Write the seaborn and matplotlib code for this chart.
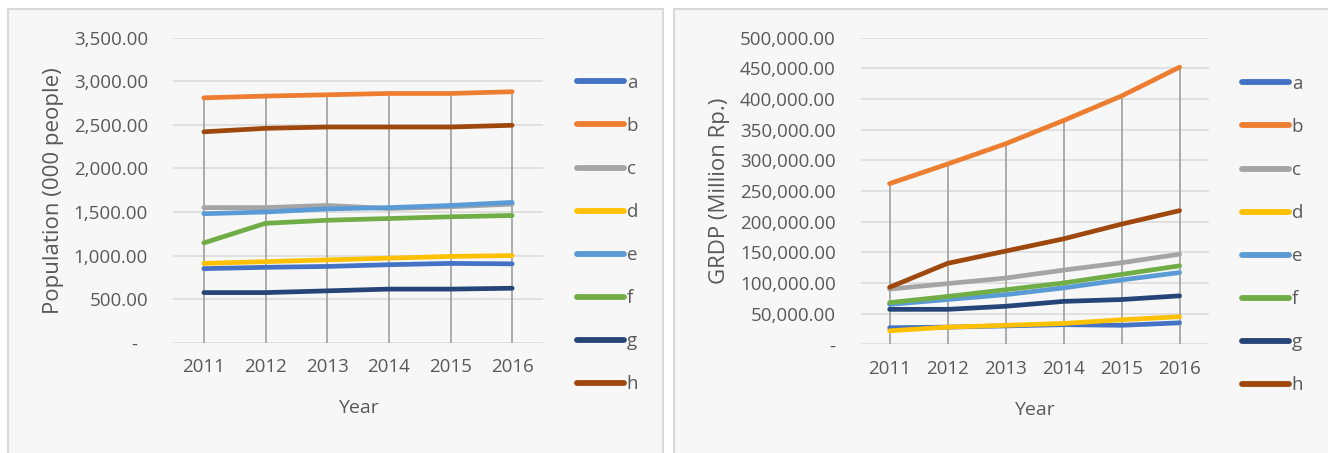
import numpy as np
import pandas as pd
import matplotlib
matplotlib.use("Agg")
import matplotlib.pyplot as plt
import seaborn as sns
from matplotlib.lines import Line2D
from matplotlib.patches import Rectangle
from matplotlib.ticker import FuncFormatter

years = [2011, 2012, 2013, 2014, 2015, 2016]
series = ["a", "b", "c", "d", "e", "f", "g", "h"]
colors = ["#4472C4", "#ED7D31", "#A5A5A5", "#FFC000",
          "#5B9BD5", "#70AD47", "#264478", "#9E480E"]

# Population (000 people)
pop_a = [850, 865, 875, 895, 910, 905]
pop_b = [2810, 2830, 2845, 2860, 2860, 2880]
pop_c = [1550, 1550, 1575, 1540, 1560, 1590]
pop_d = [910, 930, 950, 970, 990, 1000]
pop_e = [1480, 1500, 1535, 1550, 1575, 1610]
pop_f = [1145, 1370, 1405, 1425, 1445, 1460]
pop_g = [575, 575, 595, 615, 615, 625]
pop_h = [2420, 2460, 2475, 2475, 2475, 2495]

# GRDP (Million Rp.)
grdp_a = [27000, 28000, 30000, 32000, 31000, 35000]
grdp_b = [262000, 294000, 327000, 365000, 405000, 452000]
grdp_c = [90000, 99000, 108000, 121000, 133000, 147000]
grdp_d = [22000, 28000, 31000, 34000, 40000, 45000]
grdp_e = [65000, 73000, 81000, 92000, 105000, 117000]
grdp_f = [68000, 78000, 89000, 100000, 114000, 128000]
grdp_g = [57000, 57000, 62000, 70000, 73000, 79000]
grdp_h = [93000, 132000, 152000, 172000, 196000, 218000]

TEXT = "#595959"


def long_df(values):
    rows = []
    for name, vals in zip(series, values):
        for yr, v in zip(years, vals):
            rows.append((yr, name, v))
    return pd.DataFrame(rows, columns=["Year", "Series", "Value"])


def draw_panel(ax, df, ymax, step, ylabel, zero_label, ylabel_x):
    # drop lines from the highest series down to the axis
    peak = df.groupby("Year")["Value"].max()
    ax.vlines(peak.index, 0, peak.values, color="#a6a6a6", lw=1.3, zorder=1)
    sns.lineplot(data=df, x="Year", y="Value", hue="Series", hue_order=series,
                 palette=colors, lw=3.4, legend=False, ax=ax, zorder=3,
                 solid_capstyle="round")
    ax.set_facecolor("none")
    ax.set_xlim(years[0] - 0.5, years[-1] + 0.5)
    ax.set_ylim(0, ymax)
    ax.set_xticks(years)
    ax.set_yticks(np.arange(0, ymax + 1, step))
    ax.yaxis.set_major_formatter(FuncFormatter(
        lambda v, p: zero_label if v == 0 else f"{v:,.2f}"))
    ax.grid(axis="y", color="#d9d9d9", lw=1.1)
    ax.grid(axis="x", visible=False)
    for sp in ax.spines.values():
        sp.set_visible(False)
    ax.tick_params(length=0, labelsize=13.5, labelcolor=TEXT)
    ax.tick_params(axis="y", pad=18)
    ax.tick_params(axis="x", pad=11)
    ax.set_xlabel("Year", fontsize=14, color=TEXT)
    ax.xaxis.set_label_coords(0.5, -0.185)
    ax.set_ylabel(ylabel, fontsize=16, color=TEXT)
    ax.yaxis.set_label_coords(ylabel_x, 0.5)


sns.set_style("white")
plt.rcParams["font.family"] = ["Open Sans", "DejaVu Sans"]

fig = plt.figure(figsize=(13.28, 4.53), dpi=100)
fig.patch.set_facecolor("white")

# chart panels
for x0, w in [(8 / 1328, 655 / 1328), (674 / 1328, 660 / 1328)]:
    fig.patches.append(Rectangle((x0, -0.05), w, 1.05 - 9.5 / 453,
                                 transform=fig.transFigure, facecolor="#f7f7f7",
                                 edgecolor="#d9d9d9", lw=1.5, zorder=-1))

ax1 = fig.add_axes([173 / 1328, 1 - 342.7 / 453, 370 / 1328, 305 / 453])
ax2 = fig.add_axes([860.6 / 1328, 1 - 344.3 / 453, 348 / 1328, 306.6 / 453])

draw_panel(ax1, long_df([pop_a, pop_b, pop_c, pop_d, pop_e, pop_f, pop_g, pop_h]),
           3500, 500, "Population (000 people)", "-  ", -0.295)
draw_panel(ax2, long_df([grdp_a, grdp_b, grdp_c, grdp_d, grdp_e, grdp_f, grdp_g, grdp_h]),
           500000, 50000, "GRDP (Million Rp.)", "-", -0.375)

handles = [Line2D([], [], color=c, lw=4.2, solid_capstyle="round") for c in colors]
for x0, y0 in [(577 / 1328, 1 - 74 / 453), (1242 / 1328, 1 - 75 / 453)]:
    fig.legend(handles, series, loc="upper left", bbox_to_anchor=(x0, y0),
               frameon=False, handlelength=2.5, handletextpad=0.15,
               labelspacing=1.335, borderpad=0, borderaxespad=0,
               fontsize=13.5, labelcolor=TEXT)

fig.savefig("out.png", dpi=100)
